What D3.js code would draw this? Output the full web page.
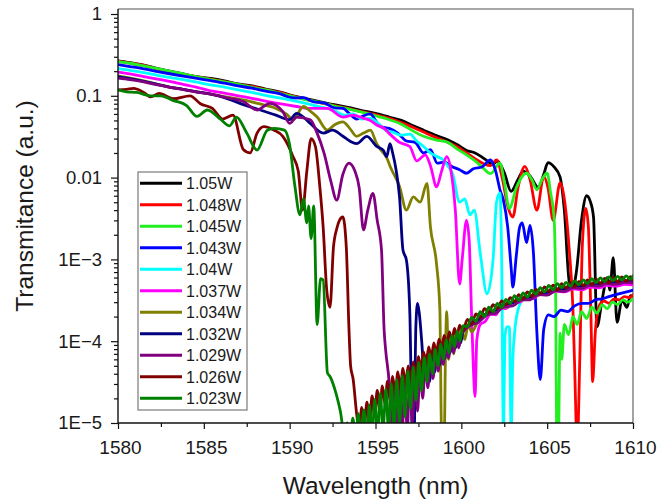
<!DOCTYPE html>
<html>
<head>
<meta charset="utf-8">
<script src="https://cdn.jsdelivr.net/npm/d3@7/dist/d3.min.js"></script>
<style>
  html, body { margin: 0; padding: 0; background: #fff; }
  svg { display: block; }
  text { font-family: "Liberation Sans", Arial, sans-serif; fill: #1a1a1a; }
</style>
</head>
<body>
<svg id="chart" width="660" height="502"></svg>
<script>
// Pump power of each trace and its colour
const powers = ["1.05W", "1.048W", "1.045W", "1.043W", "1.04W", "1.037W", "1.034W", "1.032W", "1.029W", "1.026W", "1.023W"];
const colors = ["#000000", "#ff0000", "#22ee22", "#0000ff", "#00ffff", "#ff00ff", "#808000", "#000080", "#800080", "#800000", "#008000"];

// Transmittance spectra: [wavelength (nm), transmittance]
const s1050 = [[1580,0.268],[1580.7,0.255],[1581.5,0.238],[1582.3,0.215],[1583,0.2],[1583.8,0.185],[1584.6,0.172],[1585.4,0.163],[1586.2,0.152],[1587,0.14],[1587.8,0.132],[1588.6,0.121],[1589.4,0.112],[1590.2,0.1],[1591,0.092],[1591.8,0.084],[1592.6,0.078],[1593.4,0.072],[1594.2,0.066],[1595,0.061],[1595.8,0.055],[1596.5,0.05],[1597.2,0.043],[1597.8,0.038],[1598.5,0.033],[1599.2,0.029],[1599.8,0.025],[1600.3,0.0215],[1600.8,0.02],[1601.2,0.0178],[1601.6,0.0155],[1601.8,0.0143],[1602.1,0.016],[1602.5,0.0115],[1602.9,0.0068],[1603.3,0.0095],[1603.6,0.012],[1604,0.0105],[1604.5,0.0075],[1604.8,0.011],[1605.05,0.0152],[1605.4,0.0135],[1605.75,0.0102],[1606,0.004],[1606.3,5.1e-4],[1606.5,4.5e-4],[1606.7,7e-4],[1607,0.003],[1607.3,0.006],[1607.5,0.0052],[1607.7,0.0033],[1607.9,1.5e-4],[1608.2,3.2e-4],[1608.5,6e-4],[1608.65,4.2e-4],[1608.85,1.05e-3],[1609.07,1.7e-4],[1609.36,3.2e-4],[1609.65,2.6e-4],[1609.85,3.6e-4],[1610,3.5e-4]];

const s1048 = [[1580,0.265],[1580.7,0.25],[1581.5,0.235],[1582.3,0.212],[1583,0.198],[1583.8,0.183],[1584.6,0.17],[1585.4,0.16],[1586.2,0.149],[1587,0.138],[1587.8,0.13],[1588.6,0.119],[1589.4,0.11],[1590.2,0.099],[1591,0.09],[1591.8,0.082],[1592.6,0.076],[1593.4,0.07],[1594.2,0.064],[1595,0.059],[1595.8,0.053],[1596.5,0.047],[1597.2,0.041],[1597.8,0.036],[1598.5,0.031],[1599.2,0.027],[1599.8,0.0235],[1600.3,0.02],[1600.8,0.017],[1601.3,0.0148],[1601.7,0.014],[1602.05,0.0164],[1602.4,0.0095],[1602.7,0.0045],[1603,0.0033],[1603.3,0.0075],[1603.7,0.0137],[1604,0.0095],[1604.4,0.004],[1604.8,0.0103],[1605.05,0.0075],[1605.35,0.003],[1605.75,0.0086],[1606,0.0055],[1606.3,0.0012],[1606.5,2.5e-4],[1606.6,5e-5],[1606.75,5e-6],[1606.9,6e-5],[1607.05,0.0015],[1607.25,0.0042],[1607.4,0.0025],[1607.55,2e-4],[1607.65,3.2e-5],[1607.8,1.25e-4],[1608,2.6e-4],[1608.3,3.1e-4],[1608.6,2.9e-4],[1608.9,3.3e-4],[1609.2,3.2e-4],[1609.5,3.5e-4],[1609.8,3.4e-4],[1610,3.7e-4]];

const s1045 = [[1580,0.262],[1580.7,0.25],[1581.5,0.232],[1582.3,0.215],[1583,0.2],[1583.8,0.186],[1584.6,0.17],[1585.4,0.158],[1586.2,0.148],[1587,0.138],[1587.8,0.127],[1588.6,0.118],[1589.4,0.108],[1590.2,0.098],[1591,0.089],[1591.8,0.083],[1592.6,0.075],[1593.4,0.069],[1594.2,0.063],[1595,0.057],[1595.8,0.051],[1596.5,0.045],[1597.2,0.037],[1597.8,0.032],[1598.5,0.029],[1599.2,0.027],[1599.8,0.022],[1600.3,0.019],[1600.8,0.016],[1601.2,0.0135],[1601.7,0.0112],[1602.25,0.015],[1602.5,0.009],[1602.8,0.0042],[1603.2,0.0075],[1603.8,0.0113],[1604.1,0.0095],[1604.4,0.0071],[1604.7,0.0095],[1605,0.0113],[1605.2,0.0065],[1605.4,0.0033],[1605.5,3e-4],[1605.55,8e-6],[1605.65,5e-6],[1605.75,1.25e-4],[1605.85,6e-5],[1606,1.6e-4],[1606.25,1.2e-4],[1606.5,2e-4],[1606.75,1.6e-4],[1607,2.3e-4],[1607.3,1.9e-4],[1607.6,2.6e-4],[1607.9,2.2e-4],[1608.2,2.8e-4],[1608.5,2.5e-4],[1608.8,3e-4],[1609.1,2.8e-4],[1609.4,3.2e-4],[1609.7,3e-4],[1610,3.3e-4]];

const s1043 = [[1580,0.24],[1580.7,0.228],[1581.5,0.214],[1582.3,0.198],[1583,0.186],[1583.8,0.174],[1584.6,0.163],[1585.4,0.153],[1586.2,0.143],[1587,0.132],[1587.8,0.124],[1588.6,0.114],[1589.4,0.106],[1590.2,0.094],[1590.8,0.095],[1591.4,0.084],[1592,0.082],[1592.6,0.071],[1593.1,0.07],[1593.5,0.06],[1593.9,0.052],[1594.3,0.057],[1594.7,0.06],[1595,0.05],[1595.3,0.042],[1595.8,0.04],[1596.3,0.035],[1596.8,0.028],[1597.3,0.027],[1597.8,0.02],[1598.2,0.022],[1598.6,0.015],[1599,0.0155],[1599.5,0.0135],[1599.9,0.0125],[1600.3,0.0113],[1600.7,0.0128],[1601.2,0.0135],[1601.7,0.0164],[1602,0.012],[1602.25,0.0071],[1602.45,0.0053],[1602.7,0.0025],[1602.9,8e-4],[1603,4.6e-4],[1603.2,0.0011],[1603.4,0.0025],[1603.55,0.0028],[1603.8,0.0016],[1604,0.0026],[1604.2,0.0012],[1604.4,1.3e-4],[1604.6,3.4e-5],[1604.8,1.4e-4],[1605.07,2.1e-4],[1605.4,2e-4],[1605.8,2.4e-4],[1606.2,2.3e-4],[1606.6,2.7e-4],[1607,2.9e-4],[1607.4,2.9e-4],[1607.8,3.2e-4],[1608.2,3.3e-4],[1608.6,3.5e-4],[1609,3.7e-4],[1609.4,3.9e-4],[1609.8,4.1e-4],[1610,4.2e-4]];

const s1040 = [[1580,0.215],[1580.7,0.205],[1581.5,0.192],[1582.3,0.178],[1583,0.168],[1583.8,0.158],[1584.6,0.147],[1585.4,0.136],[1586.2,0.128],[1587,0.118],[1587.8,0.11],[1588.6,0.101],[1589.4,0.094],[1590.2,0.087],[1591,0.08],[1591.8,0.073],[1592.6,0.066],[1593.2,0.058],[1593.7,0.06],[1594.2,0.052],[1594.7,0.053],[1595.2,0.045],[1595.6,0.038],[1596,0.036],[1596.5,0.033],[1597,0.034],[1597.4,0.028],[1597.8,0.024],[1598.2,0.02],[1598.6,0.018],[1598.95,0.0164],[1599.2,0.014],[1599.5,0.011],[1599.9,0.005],[1600.2,0.0055],[1600.5,0.0035],[1600.75,0.004],[1601.1,0.0012],[1601.5,3.8e-4],[1601.85,0.001],[1602.05,0.005],[1602.25,0.0065],[1602.35,0.001],[1602.45,8e-6],[1602.55,1.2e-4],[1602.65,1.5e-4],[1602.8,1.5e-4],[1602.9,8e-6],[1603,6e-5],[1603.1,1.25e-4],[1603.3,2.4e-4],[1603.6,3.2e-4],[1604,3.3e-4],[1604.4,3.8e-4],[1604.8,3.75e-4],[1605.2,4.2e-4],[1605.6,4.15e-4],[1606,4.5e-4],[1606.5,4.45e-4],[1607,4.8e-4],[1607.5,4.7e-4],[1608,5e-4],[1608.5,4.9e-4],[1609,5.15e-4],[1609.5,5.05e-4],[1610,5.2e-4]];

const s1037 = [[1580,0.195],[1580.7,0.185],[1581.5,0.172],[1582.3,0.16],[1583,0.15],[1583.8,0.138],[1584.6,0.127],[1585.4,0.115],[1586.2,0.108],[1587,0.1],[1587.8,0.093],[1588.6,0.086],[1589.4,0.08],[1590.4,0.074],[1591.2,0.07],[1592.2,0.07],[1593.1,0.055],[1593.7,0.058],[1594.3,0.053],[1594.7,0.05],[1595.07,0.044],[1595.5,0.04],[1595.84,0.034],[1596.4,0.027],[1597,0.024],[1597.4,0.016],[1597.9,0.019],[1598.2,0.014],[1598.56,0.0077],[1598.85,0.012],[1599.15,0.018],[1599.4,0.012],[1599.65,0.004],[1599.9,5e-4],[1600.05,0.001],[1600.3,0.003],[1600.45,0.0018],[1600.6,2e-4],[1600.7,4.8e-5],[1600.8,2.1e-5],[1600.9,1.03e-4],[1601.1,1.6e-4],[1601.4,1.75e-4],[1601.7,2.15e-4],[1602,2.1e-4],[1602.3,2.55e-4],[1602.6,2.5e-4],[1603,2.95e-4],[1603.4,3e-4],[1603.8,3.4e-4],[1604.2,3.35e-4],[1604.6,3.75e-4],[1605,3.7e-4],[1605.5,4.1e-4],[1606,4e-4],[1606.5,4.35e-4],[1607,4.25e-4],[1607.5,4.6e-4],[1608,4.5e-4],[1608.5,4.8e-4],[1609,4.7e-4],[1609.5,4.95e-4],[1610,4.9e-4]];

const s1034 = [[1580,0.175],[1580.7,0.165],[1581.5,0.152],[1582.3,0.138],[1583,0.128],[1583.8,0.12],[1584.6,0.112],[1585.4,0.105],[1586.2,0.098],[1587.3,0.089],[1588.2,0.08],[1589.2,0.07],[1589.8,0.06],[1590.2,0.051],[1590.8,0.074],[1591.2,0.065],[1591.6,0.055],[1592.2,0.038],[1592.6,0.044],[1593.1,0.048],[1593.5,0.04],[1593.9,0.032],[1594.3,0.035],[1594.7,0.038],[1595.07,0.026],[1595.3,0.022],[1595.65,0.0175],[1595.9,0.013],[1596.4,0.0078],[1596.8,0.004],[1597.2,0.0058],[1597.6,0.005],[1598,0.0085],[1598.2,0.0025],[1598.55,9e-4],[1598.75,2.4e-4],[1598.85,7e-6],[1599,6e-6],[1599.08,8e-5],[1599.15,2.3e-4],[1599.25,6e-5],[1599.4,1.1e-4],[1599.55,7e-5],[1599.7,1.25e-4],[1599.85,8.5e-5],[1600,1.4e-4],[1600.2,1.05e-4],[1600.4,1.6e-4],[1600.6,1.3e-4],[1601,1.8e-4],[1601.4,2.15e-4],[1601.8,2.2e-4],[1602.2,2.6e-4],[1602.6,2.6e-4],[1603,3e-4],[1603.5,3.15e-4],[1604,3.55e-4],[1604.5,3.65e-4],[1605,4.05e-4],[1605.5,4.15e-4],[1606,4.5e-4],[1606.5,4.55e-4],[1607,4.85e-4],[1607.5,4.9e-4],[1608,5.2e-4],[1608.5,5.2e-4],[1609,5.45e-4],[1609.5,5.45e-4],[1610,5.6e-4]];

const s1032 = [[1580,0.172],[1580.7,0.162],[1581.5,0.15],[1582.3,0.138],[1583,0.128],[1583.8,0.12],[1584.6,0.112],[1585.4,0.105],[1586.2,0.095],[1587.3,0.078],[1588.2,0.068],[1589.2,0.058],[1590,0.051],[1590.4,0.061],[1590.8,0.055],[1591.2,0.046],[1591.96,0.035],[1592.5,0.038],[1593.1,0.032],[1593.5,0.028],[1593.9,0.026],[1594.5,0.032],[1595.07,0.024],[1595.45,0.0217],[1595.65,0.018],[1595.84,0.026],[1596,0.02],[1596.2,0.0124],[1596.4,0.0058],[1596.6,0.0013],[1596.8,9.8e-4],[1597,2.2e-4],[1597.15,7e-6],[1597.25,7e-6],[1597.35,1.5e-4],[1597.45,2.9e-4],[1597.55,2.2e-4],[1597.7,9.5e-5],[1597.85,3.5e-5],[1598,6.8e-5],[1598.15,3.2e-5],[1598.3,7.5e-5],[1598.45,4.2e-5],[1598.6,8.3e-5],[1598.75,5.2e-5],[1598.9,9.2e-5],[1599.05,6.2e-5],[1599.2,1e-4],[1599.35,7.2e-5],[1599.5,1.1e-4],[1599.65,8.2e-5],[1599.8,1.2e-4],[1599.95,9.5e-5],[1600.1,1.3e-4],[1600.5,1.6e-4],[1601,1.85e-4],[1601.5,2.2e-4],[1602,2.4e-4],[1602.5,2.8e-4],[1603,2.95e-4],[1603.5,3.35e-4],[1604,3.45e-4],[1604.5,3.85e-4],[1605,3.95e-4],[1605.5,4.35e-4],[1606,4.35e-4],[1606.5,4.7e-4],[1607,4.7e-4],[1607.5,5e-4],[1608,5e-4],[1608.5,5.25e-4],[1609,5.2e-4],[1609.5,5.45e-4],[1610,5.45e-4]];

const s1029 = [[1580,0.165],[1580.7,0.158],[1581.5,0.148],[1582.3,0.136],[1583.4,0.123],[1584.5,0.112],[1585.5,0.104],[1586.4,0.094],[1587.3,0.085],[1588.1,0.067],[1588.85,0.081],[1589.6,0.064],[1590,0.046],[1590.4,0.055],[1591.2,0.051],[1591.6,0.035],[1592,0.02],[1592.4,0.009],[1592.74,0.0053],[1593.1,0.011],[1593.45,0.015],[1593.8,0.012],[1594.05,0.0075],[1594.3,0.0023],[1594.55,0.004],[1594.85,0.0064],[1595.1,0.003],[1595.35,0.0013],[1595.5,1.4e-4],[1595.6,7.5e-5],[1595.8,3e-5],[1595.95,7e-6],[1596.1,2.7e-5],[1596.25,7e-6],[1596.4,3e-5],[1596.55,7e-6],[1596.7,3.3e-5],[1596.85,8e-6],[1597,3.7e-5],[1597.15,1e-5],[1597.3,4.2e-5],[1597.45,1.4e-5],[1597.6,4.8e-5],[1597.75,2e-5],[1597.9,5.5e-5],[1598.05,2.7e-5],[1598.2,6.2e-5],[1598.35,3.5e-5],[1598.5,7e-5],[1598.65,4.3e-5],[1598.8,7.8e-5],[1598.95,5.2e-5],[1599.1,8.8e-5],[1599.25,6.2e-5],[1599.4,9.8e-5],[1599.55,7.2e-5],[1599.7,1.08e-4],[1599.85,8.3e-5],[1600,1.2e-4],[1600.5,1.55e-4],[1601,1.7e-4],[1601.5,2.1e-4],[1602,2.2e-4],[1602.5,2.65e-4],[1603,2.7e-4],[1603.5,3.2e-4],[1604,3.2e-4],[1604.5,3.7e-4],[1605,3.65e-4],[1605.5,4.15e-4],[1606,4.05e-4],[1606.5,4.5e-4],[1607,4.4e-4],[1607.5,4.8e-4],[1608,4.7e-4],[1608.5,5.05e-4],[1609,4.95e-4],[1609.5,5.25e-4],[1610,5.2e-4]];

const s1026 = [[1580,0.118],[1580.5,0.12],[1580.9,0.123],[1581.5,0.11],[1581.9,0.097],[1582.4,0.107],[1583.2,0.092],[1584.2,0.1],[1584.8,0.08],[1585.5,0.07],[1586.1,0.052],[1586.7,0.058],[1587.3,0.022],[1587.7,0.02],[1588.1,0.035],[1588.5,0.042],[1589.1,0.038],[1589.6,0.032],[1590.2,0.018],[1590.5,0.012],[1590.75,0.004],[1591,0.012],[1591.25,0.03],[1591.5,0.024],[1591.75,0.008],[1591.95,0.0025],[1592.16,4.2e-4],[1592.35,2.6e-4],[1592.55,1.4e-3],[1592.75,2.4e-3],[1592.9,3e-3],[1593.1,3.3e-3],[1593.3,1.4e-3],[1593.45,1.5e-4],[1593.55,5e-5],[1593.7,3.4e-5],[1593.9,1.3e-5],[1594.05,8e-6],[1594.2,1.55e-5],[1594.35,9e-6],[1594.5,1.8e-5],[1594.65,1e-5],[1594.8,2.15e-5],[1594.95,1.2e-5],[1595.1,2.5e-5],[1595.25,1.4e-5],[1595.4,2.85e-5],[1595.55,1.7e-5],[1595.7,3.25e-5],[1595.85,1.9e-5],[1596,3.7e-5],[1596.15,2.2e-5],[1596.3,4.2e-5],[1596.45,2.6e-5],[1596.6,4.65e-5],[1596.75,2.9e-5],[1596.9,5e-5],[1597.05,3.3e-5],[1597.2,5.6e-5],[1597.35,3.8e-5],[1597.5,6.5e-5],[1597.65,4.5e-5],[1597.8,7.4e-5],[1597.95,5.3e-5],[1598.1,8.5e-5],[1598.25,6.2e-5],[1598.4,9.5e-5],[1598.55,7e-5],[1598.7,1.06e-4],[1598.85,8e-5],[1599,1.18e-4],[1599.15,9e-5],[1599.3,1.3e-4],[1599.45,1.02e-4],[1599.6,1.43e-4],[1599.75,1.15e-4],[1599.9,1.57e-4],[1600.1,1.35e-4],[1600.35,1.85e-4],[1600.6,1.6e-4],[1600.85,2.15e-4],[1601.1,1.95e-4],[1601.35,2.5e-4],[1601.6,2.25e-4],[1601.85,2.8e-4],[1602.1,2.5e-4],[1602.35,3.1e-4],[1602.6,2.8e-4],[1602.85,3.4e-4],[1603.1,3.05e-4],[1603.35,3.7e-4],[1603.6,3.3e-4],[1603.85,4e-4],[1604.1,3.55e-4],[1604.35,4.3e-4],[1604.6,3.8e-4],[1604.85,4.6e-4],[1605.1,4.05e-4],[1605.35,4.85e-4],[1605.6,4.25e-4],[1605.85,5.05e-4],[1606.1,4.45e-4],[1606.35,5.25e-4],[1606.6,4.6e-4],[1606.85,5.4e-4],[1607.1,4.75e-4],[1607.35,5.6e-4],[1607.6,4.9e-4],[1607.85,5.75e-4],[1608.1,5.05e-4],[1608.35,5.85e-4],[1608.6,5.15e-4],[1608.85,6e-4],[1609.1,5.25e-4],[1609.35,6.1e-4],[1609.6,5.35e-4],[1609.85,6.15e-4],[1610,5.6e-4]];

const s1023 = [[1580,0.118],[1580.5,0.112],[1581.1,0.11],[1581.9,0.1],[1582.5,0.1],[1583.2,0.088],[1584,0.076],[1584.6,0.056],[1585.2,0.067],[1586,0.051],[1586.5,0.043],[1586.9,0.055],[1587.5,0.035],[1588.1,0.0217],[1588.7,0.038],[1589.1,0.04],[1589.7,0.038],[1590,0.025],[1590.3,0.008],[1590.6,0.0035],[1590.8,0.0055],[1591,0.0028],[1591.1,0.0045],[1591.25,0.0018],[1591.4,0.0045],[1591.6,1.6e-4],[1591.8,5.8e-4],[1591.95,5.6e-4],[1592.2,4.1e-5],[1592.35,3.7e-5],[1592.7,2.3e-5],[1592.95,1.4e-5],[1593.2,7e-6],[1593.36,1e-5],[1593.52,6e-6],[1593.68,1.15e-5],[1593.84,6e-6],[1594,1.3e-5],[1594.16,6e-6],[1594.32,1.45e-5],[1594.48,6e-6],[1594.64,1.65e-5],[1594.8,7e-6],[1594.96,1.95e-5],[1595.12,7e-6],[1595.28,2.3e-5],[1595.44,8e-6],[1595.6,2.6e-5],[1595.76,8e-6],[1595.92,3e-5],[1596.08,9e-6],[1596.24,3.4e-5],[1596.4,1e-5],[1596.56,3.8e-5],[1596.72,1.2e-5],[1596.88,4.3e-5],[1597.04,1.5e-5],[1597.2,4.8e-5],[1597.36,1.9e-5],[1597.52,5.5e-5],[1597.68,2.5e-5],[1597.84,6.3e-5],[1598,3.2e-5],[1598.16,7e-5],[1598.32,4e-5],[1598.48,8e-5],[1598.64,5e-5],[1598.8,9.2e-5],[1598.96,6e-5],[1599.12,1.05e-4],[1599.28,7.2e-5],[1599.44,1.18e-4],[1599.6,8.5e-5],[1599.76,1.32e-4],[1599.92,1e-4],[1600.1,1.55e-4],[1600.35,1.5e-4],[1600.6,1.95e-4],[1600.85,1.75e-4],[1601.1,2.3e-4],[1601.35,2e-4],[1601.6,2.6e-4],[1601.85,2.3e-4],[1602.1,2.9e-4],[1602.35,2.6e-4],[1602.6,3.25e-4],[1602.85,2.9e-4],[1603.1,3.6e-4],[1603.35,3.15e-4],[1603.6,3.9e-4],[1603.85,3.45e-4],[1604.1,4.2e-4],[1604.35,3.75e-4],[1604.6,4.5e-4],[1604.85,4e-4],[1605.1,4.8e-4],[1605.35,4.25e-4],[1605.6,5.05e-4],[1605.85,4.5e-4],[1606.1,5.25e-4],[1606.35,4.7e-4],[1606.6,5.45e-4],[1606.85,4.9e-4],[1607.1,5.6e-4],[1607.35,5.05e-4],[1607.6,5.8e-4],[1607.85,5.2e-4],[1608.1,5.95e-4],[1608.35,5.35e-4],[1608.6,6.1e-4],[1608.85,5.5e-4],[1609.1,6.2e-4],[1609.35,5.6e-4],[1609.6,6.3e-4],[1609.85,5.7e-4],[1610,6.3e-4]];

const spectra = [s1050, s1048, s1045, s1043, s1040, s1037, s1034, s1032, s1029, s1026, s1023];

// Axis ticks
const xTicks = [1580, 1585, 1590, 1595, 1600, 1605, 1610];
const xMinorTicks = [1582.5, 1587.5, 1592.5, 1597.5, 1602.5, 1607.5];
const yTicks = [1e-5, 1e-4, 1e-3, 0.01, 0.1, 1];
const yTickLabels = ["1E\u22125", "1E\u22124", "1E\u22123", "0.01", "0.1", "1"];

const svg = d3.select("#chart");
const plotLeft = 118, plotRight = 633, plotTop = 9, plotBottom = 423;

const x = d3.scaleLinear().domain([1580, 1610]).range([plotLeft, plotRight]);
const y = d3.scaleLog().domain([1e-5, 1.151]).range([plotBottom, plotTop]);

// log minor ticks 2..9 inside each decade
const yMinorTicks = [];
yTicks.slice(0, -1).forEach(d => { for (let k = 2; k <= 9; k++) yMinorTicks.push(d * k); });

svg.append("defs").append("clipPath").attr("id", "plot-clip")
  .append("rect").attr("x", plotLeft).attr("y", plotTop)
  .attr("width", plotRight - plotLeft).attr("height", plotBottom - plotTop);

// light frame on top and right
svg.append("path")
  .attr("d", `M${plotLeft},${plotTop}H${plotRight}V${plotBottom}`)
  .attr("fill", "none").attr("stroke", "#8c8c8c").attr("stroke-width", 1.6);

// spectra
const line = d3.line()
  .x(d => x(d[0]))
  .y(d => y(d[1]))
  .curve(d3.curveMonotoneX);

svg.append("g").attr("clip-path", "url(#plot-clip)")
  .selectAll("path")
  .data(spectra)
  .join("path")
  .attr("d", line)
  .attr("fill", "none")
  .attr("stroke", (d, i) => colors[i])
  .attr("stroke-width", 2.8)
  .attr("stroke-linejoin", "round")
  .attr("stroke-linecap", "round");

// bottom axis
const xAxis = svg.append("g").attr("transform", `translate(0,${plotBottom})`)
  .call(d3.axisBottom(x).tickValues(xTicks).tickFormat(d3.format("d")).tickSize(6).tickPadding(12));
svg.append("g").attr("transform", `translate(0,${plotBottom})`)
  .call(d3.axisBottom(x).tickValues(xMinorTicks).tickFormat("").tickSize(4))
  .select(".domain").remove();

// left axis
const yAxis = svg.append("g").attr("transform", `translate(${plotLeft},0)`)
  .call(d3.axisLeft(y).tickValues(yTicks).tickFormat((d, i) => yTickLabels[i]).tickSize(7).tickPadding(9));
svg.append("g").attr("transform", `translate(${plotLeft},0)`)
  .call(d3.axisLeft(y).tickValues(yMinorTicks).tickFormat("").tickSize(4))
  .select(".domain").remove();

svg.selectAll(".domain").attr("stroke", "#111").attr("stroke-width", 1.4);
svg.selectAll(".tick line").attr("stroke", "#111").attr("stroke-width", 1.2);
xAxis.selectAll("text").attr("font-size", 19).attr("dx", 2)
  .attr("font-family", "Liberation Sans, Arial, sans-serif").attr("fill", "#1a1a1a");
yAxis.selectAll("text").attr("font-size", 18.5)
  .attr("font-family", "Liberation Sans, Arial, sans-serif").attr("fill", "#1a1a1a");
yAxis.select(".domain").attr("d", `M0,${plotTop}V${plotBottom}`);
xAxis.select(".domain").attr("d", `M${plotLeft},0H${plotRight}`);

// axis titles
svg.append("text")
  .attr("x", (plotLeft + plotRight) / 2).attr("y", 494)
  .attr("text-anchor", "middle")
  .attr("font-size", 24.5)
  .text("Wavelength (nm)");

svg.append("text")
  .attr("transform", "translate(33,206) rotate(-90)")
  .attr("text-anchor", "middle")
  .attr("font-size", 24.5)
  .text("Transmitance (a.u.)");

// legend
const legend = svg.append("g");
legend.append("rect")
  .attr("x", 138).attr("y", 172).attr("width", 109).attr("height", 238)
  .attr("fill", "#fff").attr("stroke", "#7a7a7a").attr("stroke-width", 1.2);

const rows = legend.selectAll("g.row").data(powers).join("g")
  .attr("class", "row")
  .attr("transform", (d, i) => `translate(0,${183.3 + i * 21.5})`);
rows.append("line")
  .attr("x1", 140).attr("x2", 182).attr("y1", 0).attr("y2", 0)
  .attr("stroke", (d, i) => colors[i]).attr("stroke-width", 3);
rows.append("text")
  .attr("x", 186).attr("y", 0).attr("dy", "0.36em")
  .attr("font-size", 16)
  .text(d => d);
</script>
</body>
</html>
